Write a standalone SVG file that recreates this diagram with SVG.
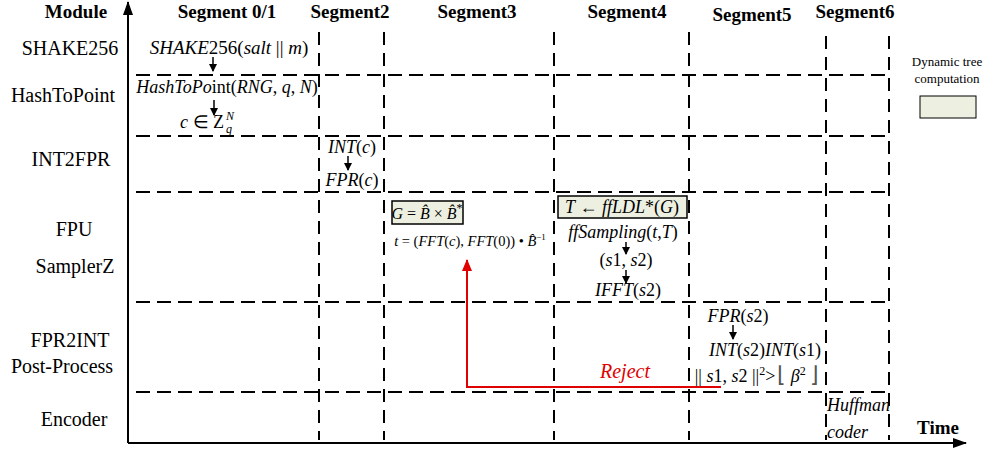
<svg xmlns="http://www.w3.org/2000/svg" width="990" height="454" viewBox="0 0 990 454">
<defs>
<style>
text{font-family:"Liberation Serif","Times New Roman",serif;fill:#000}
.hd{font-size:19px;font-weight:bold;text-anchor:middle}
.lb{font-size:20px;text-anchor:middle}
.f{font-size:18px;text-anchor:middle}
.fs{font-size:14.5px;text-anchor:middle}
.i{font-style:italic}
.sm{font-size:12px}
.lg{font-size:13px;text-anchor:middle}
.grid line{stroke:#000;stroke-width:2;fill:none}
.h{stroke-dasharray:14 7}
.v{stroke-dasharray:13 8}
.box{fill:#edf0e1;stroke:#000;stroke-width:1.5}
.arr{stroke:#000;stroke-width:1.5;fill:none;marker-end:url(#ah)}
</style>
<marker id="ah" markerWidth="8" markerHeight="8" refX="7" refY="4" orient="auto" markerUnits="userSpaceOnUse">
<path d="M0,0 L8,4 L0,8 z" fill="#000"/>
</marker>
<marker id="axh" markerWidth="14" markerHeight="10" refX="13" refY="5" orient="auto" markerUnits="userSpaceOnUse">
<path d="M0,0 L14,5 L0,10 z" fill="#000"/>
</marker>
<marker id="rh" markerWidth="12" markerHeight="10" refX="11" refY="5" orient="auto" markerUnits="userSpaceOnUse">
<path d="M0,0 L12,5 L0,10 z" fill="#e00000"/>
</marker>
</defs>

<g id="axes">
<line x1="128" y1="443" x2="128" y2="2" stroke="#000" stroke-width="2" marker-end="url(#axh)"/>
<line x1="128" y1="443" x2="966" y2="443" stroke="#000" stroke-width="2" marker-end="url(#axh)"/>
</g>

<g id="grid" class="grid">
<line class="h" x1="136" y1="75" x2="890" y2="75"/>
<line class="h" x1="136" y1="136" x2="890" y2="136"/>
<line class="h" x1="136" y1="192" x2="890" y2="192"/>
<line class="h" x1="136" y1="302" x2="890" y2="302"/>
<line class="h" x1="136" y1="392" x2="890" y2="392"/>
<line class="v" x1="319" y1="32" x2="319" y2="440"/>
<line class="v" x1="384" y1="32" x2="384" y2="440"/>
<line class="v" x1="554" y1="32" x2="554" y2="440"/>
<line class="v" x1="689" y1="32" x2="689" y2="440"/>
<line class="v" x1="826" y1="36" x2="826" y2="440"/>
<line class="v" x1="889" y1="36" x2="889" y2="440"/>
</g>

<g id="headers">
<text class="hd" x="76" y="18">Module</text>
<text class="hd" x="227" y="18">Segment 0/1</text>
<text class="hd" x="350" y="18">Segment2</text>
<text class="hd" x="477" y="18">Segment3</text>
<text class="hd" x="627" y="18">Segment4</text>
<text class="hd" x="752" y="21">Segment5</text>
<text class="hd" x="855" y="18">Segment6</text>
<text class="hd" x="938" y="434">Time</text>
</g>

<g id="modules">
<text class="lb" x="70" y="55">SHAKE256</text>
<text class="lb" x="63" y="102">HashToPoint</text>
<text class="lb" x="71" y="166">INT2FPR</text>
<text class="lb" x="74" y="236">FPU</text>
<text class="lb" x="75" y="273">SamplerZ</text>
<text class="lb" x="70" y="347">FPR2INT</text>
<text class="lb" x="62" y="373">Post-Process</text>
<text class="lb" x="74" y="426">Encoder</text>
</g>

<g id="node-shake">
<text class="f" x="229" y="54" style="font-size:19px"><tspan class="i">SHAKE</tspan>256(<tspan class="i">salt</tspan> || <tspan class="i">m</tspan>)</text>
</g>
<g id="node-hash">
<text class="f" x="227" y="93"><tspan class="i">HashToPo</tspan>int(<tspan class="i">RNG</tspan>, <tspan class="i">q</tspan>, <tspan class="i">N</tspan>)</text>
</g>
<g id="node-c">
<text class="f" x="224" y="128" style="text-anchor:end"><tspan class="i">c</tspan> ∈ Z</text>
<text class="sm i" x="226" y="120">N</text>
<text class="sm i" x="226" y="133">q</text>
</g>
<g id="node-intc">
<text class="f" x="352" y="153"><tspan class="i">INT</tspan>(<tspan class="i">c</tspan>)</text>
</g>
<g id="node-fprc">
<text class="f" x="352" y="186"><tspan class="i">FPR</tspan>(<tspan class="i">c</tspan>)</text>
</g>
<g id="node-g">
<rect class="box" x="392" y="201" width="71" height="23"/>
<text class="f" x="427" y="219" style="font-size:16px"><tspan class="i">G</tspan> = <tspan class="i">B̂</tspan> × <tspan class="i">B̂</tspan><tspan class="sm" dy="-7">*</tspan></text>
</g>
<g id="node-t">
<text class="fs" x="470" y="246"><tspan class="i">t</tspan> = (<tspan class="i">FFT</tspan>(<tspan class="i">c</tspan>), <tspan class="i">FFT</tspan>(0)) • <tspan class="i">B̂</tspan><tspan style="font-size:9px" dy="-6">−1</tspan></text>
</g>
<g id="node-ffldl">
<rect class="box" x="558" y="196" width="129" height="22"/>
<text class="f" x="622" y="213"><tspan class="i">T</tspan> ← <tspan class="i">ffLDL</tspan>*(<tspan class="i">G</tspan>)</text>
</g>
<g id="node-ffs">
<text class="f" x="623" y="238"><tspan class="i">ffSampling</tspan>(<tspan class="i">t</tspan>,<tspan class="i">T</tspan>)</text>
</g>
<g id="node-s1s2">
<text class="f" x="626" y="266">(<tspan class="i">s</tspan>1, <tspan class="i">s</tspan>2)</text>
</g>
<g id="node-ifft">
<text class="f" x="628" y="296"><tspan class="i">IFFT</tspan>(<tspan class="i">s</tspan>2)</text>
</g>
<g id="node-fprs2">
<text class="f" x="738" y="322"><tspan class="i">FPR</tspan>(<tspan class="i">s</tspan>2)</text>
</g>
<g id="node-ints">
<text class="f" x="765" y="356"><tspan class="i">INT</tspan>(<tspan class="i">s</tspan>2)<tspan class="i">INT</tspan>(<tspan class="i">s</tspan>1)</text>
</g>
<g id="node-norm">
<text class="f" x="757" y="382">|| <tspan class="i">s</tspan>1, <tspan class="i">s</tspan>2 ||<tspan class="sm" dy="-7">2</tspan><tspan dy="7">&gt;</tspan><tspan dx="2" style="font-size:22px;fill:#555">⌊</tspan> <tspan class="i">β</tspan><tspan class="sm" dy="-7">2</tspan><tspan dy="7"> </tspan><tspan style="font-size:22px;fill:#555">⌋</tspan></text>
</g>
<g id="node-huffman">
<text class="f i" x="827" y="411" style="text-anchor:start">Huffman</text>
<text class="f i" x="827" y="438" style="text-anchor:start">coder</text>
</g>
<g id="legend">
<text class="lg" x="947" y="66">Dynamic tree</text>
<text class="lg" x="947" y="83">computation</text>
<rect class="box" x="920" y="96" width="56" height="22" style="stroke-width:1"/>
</g>

<g id="connectors">
<line class="arr" x1="213" y1="57" x2="213" y2="71"/>
<line class="arr" x1="214" y1="100" x2="214" y2="115"/>
<line class="arr" x1="348" y1="156" x2="348" y2="170"/>
<line class="arr" x1="626" y1="242" x2="626" y2="254"/>
<line class="arr" x1="626" y1="270" x2="626" y2="283"/>
<line class="arr" x1="733" y1="325" x2="733" y2="339"/>
<polyline points="721,387 467,387 467,260" fill="none" stroke="#e00000" stroke-width="2" marker-end="url(#rh)"/>
<text x="625" y="378" style="font-size:20px;font-style:italic;fill:#e00000;text-anchor:middle">Reject</text>
</g>
</svg>
